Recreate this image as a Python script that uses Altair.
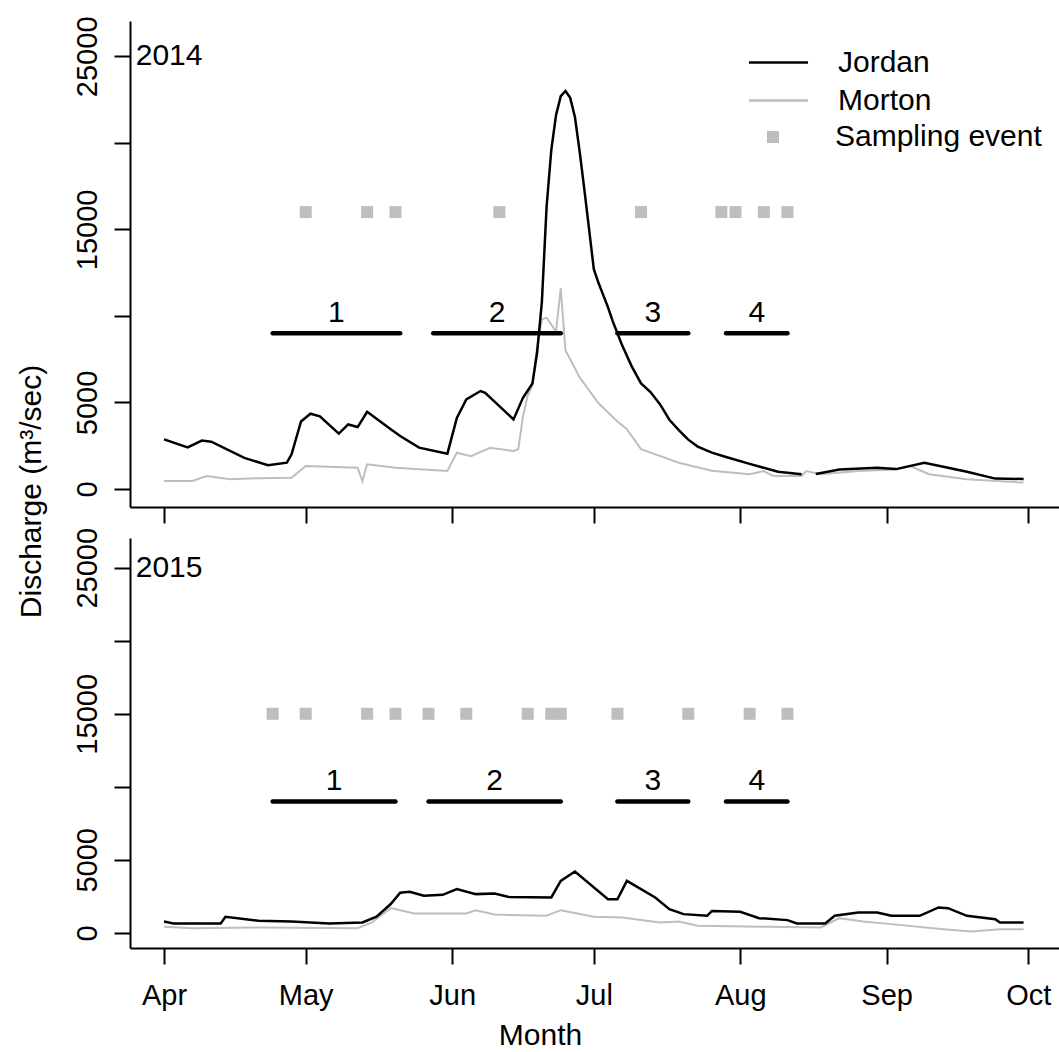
import altair as alt
import pandas as pd

FONT = "Liberation Sans"
GREY = "#bebebe"

# ---------------- discharge readings (m3/sec), dates as month-day ----------------
jordan_2014_dates = ["04-01", "04-06", "04-09", "04-11", "04-18", "04-23", "04-27", "04-28", "04-30",
                     "05-02", "05-04", "05-08", "05-10", "05-12", "05-14", "05-19", "05-21", "05-25",
                     "05-31", "06-02", "06-04", "06-07", "06-08", "06-14", "06-16", "06-18", "06-19",
                     "06-20", "06-21", "06-22", "06-23", "06-24", "06-25", "06-26", "06-27", "06-28",
                     "06-29", "06-30", "07-01", "07-02", "07-03", "07-04", "07-05", "07-06", "07-07",
                     "07-09", "07-11", "07-13", "07-15", "07-17", "07-19", "07-21", "07-23", "07-26",
                     "07-29", "08-03", "08-09", "08-14", "08-15", "08-17", "08-22", "08-30", "09-03",
                     "09-09", "09-14", "09-18", "09-24", "09-30"]
jordan_2014_q = [2870, 2400, 2800, 2730, 1800, 1380, 1520, 2000, 3900,
                 4350, 4200, 3200, 3730, 3580, 4460, 3450, 3060, 2390,
                 2040, 4100, 5180, 5660, 5560, 4020, 5270, 6100, 7900,
                 10800, 16300, 19600, 21600, 22700, 23000, 22600, 21500, 19500,
                 17300, 15000, 12700, 11900, 11200, 10500, 9700, 9000, 8300,
                 7100, 6100, 5600, 4900, 4000, 3400, 2850, 2450, 2100,
                 1850, 1450, 1000, 850, None, 870, 1130, 1230, 1150,
                 1520, 1230, 1000, 600, 580]

morton_2014_dates = ["04-01", "04-07", "04-10", "04-15", "04-21", "04-28", "05-01", "05-12", "05-13",
                     "05-14", "05-20", "05-31", "06-02", "06-05", "06-09", "06-14", "06-15", "06-16",
                     "06-17", "06-18", "06-19", "06-20", "06-21", "06-22", "06-23", "06-24", "06-25",
                     "06-26", "06-28", "07-02", "07-06", "07-08", "07-11", "07-19", "07-26", "08-03",
                     "08-06", "08-08", "08-14", "08-15", "08-18", "08-26", "09-03", "09-06", "09-10",
                     "09-18", "09-30"]
morton_2014_q = [460, 460, 750, 560, 620, 650, 1330, 1230, 450,
                 1430, 1230, 1040, 2100, 1900, 2380, 2200, 2300, 4200,
                 5400, 6000, 8200, 9800, 9900, 9500, 9100, 11600, 8000,
                 7500, 6450, 4950, 3900, 3450, 2300, 1520, 1060, 850,
                 1040, 750, 750, 1040, 850, 1040, 1130, 1330, 850,
                 560, 370]

jordan_2015_dates = ["04-01", "04-03", "04-13", "04-14", "04-21", "04-28", "05-06", "05-13", "05-16",
                     "05-19", "05-21", "05-23", "05-26", "05-30", "06-02", "06-06", "06-10", "06-13",
                     "06-22", "06-24", "06-27", "07-04", "07-06", "07-08", "07-14", "07-17", "07-20",
                     "07-25", "07-26", "08-01", "08-05", "08-11", "08-13", "08-19", "08-21", "08-26",
                     "08-30", "09-02", "09-08", "09-12", "09-14", "09-18", "09-24", "09-25", "09-30"]
jordan_2015_q = [780, 640, 640, 1100, 820, 780, 640, 710, 1100,
                 1970, 2750, 2810, 2540, 2600, 2990, 2650, 2690, 2460,
                 2420, 3560, 4200, 2300, 2300, 3560, 2420, 1620, 1280,
                 1165, 1500, 1440, 1005, 870, 640, 640, 1165, 1395,
                 1395, 1165, 1165, 1740, 1690, 1165, 935, 705, 705]

morton_2015_dates = ["04-01", "04-07", "04-22", "05-12", "05-15", "05-19", "05-24", "06-04", "06-06",
                     "06-10", "06-21", "06-24", "07-01", "07-07", "07-15", "07-19", "07-23", "08-07",
                     "08-18", "08-22", "08-27", "09-02", "09-13", "09-19", "09-25", "09-30"]
morton_2015_q = [410, 320, 365, 320, 710, 1690, 1320, 1320, 1550,
                 1250, 1165, 1550, 1095, 1050, 710, 775, 480, 410,
                 365, 1005, 775, 595, 250, 90, 250, 250]

# ---------------- sampling events ----------------
samples_2014 = ["05-01", "05-14", "05-20", "06-11", "07-11", "07-28", "07-31", "08-06", "08-11"]
samples_2014_level = 16000
samples_2015 = ["04-24", "05-01", "05-14", "05-20", "05-27", "06-04", "06-17", "06-22", "06-24",
                "07-06", "07-21", "08-03", "08-11"]
samples_2015_level = 15000

# ---------------- sampling periods ----------------
period_labels = ["1", "2", "3", "4"]
periods_2014_start = ["04-24", "05-28", "07-06", "07-29"]
periods_2014_end = ["05-21", "06-24", "07-21", "08-11"]
periods_2015_start = ["04-24", "05-27", "07-06", "07-29"]
periods_2015_end = ["05-20", "06-24", "07-21", "08-11"]
period_level = 9000

# y axis ticks and the labelled subset
y_ticks = [0, 5000, 10000, 15000, 20000, 25000]
y_labelled = [0, 5000, 15000, 25000]
month_ticks = [4, 5, 6, 7, 8, 9, 10]
panel_label_date = "03-26"
panel_label_level = 25000


def dates(year, mmdd):
    return pd.to_datetime([f"{year}-{d}" for d in mmdd])


def flow_frame(year, river, mmdd, q):
    return pd.DataFrame({"date": dates(year, mmdd), "q": q, "river": river})


seasons = {
    2014: dict(jordan=flow_frame(2014, "Jordan", jordan_2014_dates, jordan_2014_q),
               morton=flow_frame(2014, "Morton", morton_2014_dates, morton_2014_q),
               samples=pd.DataFrame({"date": dates(2014, samples_2014),
                                     "level": samples_2014_level, "kind": "Sampling event"}),
               periods=pd.DataFrame({"start": dates(2014, periods_2014_start),
                                     "end": dates(2014, periods_2014_end),
                                     "level": period_level, "label": period_labels})),
    2015: dict(jordan=flow_frame(2015, "Jordan", jordan_2015_dates, jordan_2015_q),
               morton=flow_frame(2015, "Morton", morton_2015_dates, morton_2015_q),
               samples=pd.DataFrame({"date": dates(2015, samples_2015),
                                     "level": samples_2015_level, "kind": "Sampling event"}),
               periods=pd.DataFrame({"start": dates(2015, periods_2015_start),
                                     "end": dates(2015, periods_2015_end),
                                     "level": period_level, "label": period_labels})),
}
for s in seasons.values():
    p = s["periods"]
    p["mid"] = p["start"] + (p["end"] - p["start"]) / 2

label_expr = " || ".join(f"datum.value == {v}" for v in y_labelled)
label_expr = f"({label_expr}) ? format(datum.value, 'd') : ''"

y_scale = alt.Scale(domain=[-1040, 27040], nice=False, zero=False)


def panel(year, height, top):
    s = seasons[year]
    x_scale = alt.Scale(domain=[alt.DateTime(year=year, month=3, date=24, hours=19),
                                alt.DateTime(year=year, month=10, date=7, hours=12)])
    months = [alt.DateTime(year=year, month=m, date=1) for m in month_ticks]
    if top:
        x_axis = alt.Axis(values=months, labels=False, title=None)
        y_axis = alt.Axis(values=y_ticks, labelExpr=label_expr, title="Discharge (m³/sec)",
                          titleX=-90, titleY=470, titleAngle=270, titleAlign="center",
                          titleBaseline="alphabetic")
    else:
        x_axis = alt.Axis(values=months, format="%b", title="Month",
                          titleX=410, titleY=96, titleAlign="center", titleBaseline="alphabetic")
        y_axis = alt.Axis(values=y_ticks, labelExpr=label_expr, title=None)

    def X(field):
        return alt.X(field, type="temporal", scale=x_scale, axis=x_axis)

    def Y(field):
        return alt.Y(field, type="quantitative", scale=y_scale, axis=y_axis)

    if top:
        river_color = alt.Color(
            "river:N",
            scale=alt.Scale(domain=["Jordan", "Morton"], range=["black", GREY]),
            legend=alt.Legend(title=None, orient="none", legendX=632, legendY=25,
                              symbolType="M-1.97,0H1.97", symbolSize=900, symbolStrokeWidth=2.5,
                              labelOffset=43, labelFontSize=30, labelFont=FONT, labelColor="black",
                              labelLimit=300, rowPadding=6, padding=0),
        )
        morton = alt.Chart(s["morton"]).mark_line(strokeWidth=2).encode(
            x=X("date"), y=Y("q"), color=river_color)
        jordan = alt.Chart(s["jordan"]).mark_line(strokeWidth=2.5).encode(
            x=X("date"), y=Y("q"), color=river_color)
        samples = alt.Chart(s["samples"]).mark_point(
            filled=True, size=144, color=GREY, opacity=1).encode(
            x=X("date"), y=Y("level"),
            shape=alt.Shape("kind:N",
                            scale=alt.Scale(domain=["Sampling event"], range=["square"]),
                            legend=alt.Legend(title=None, orient="none", legendX=628, legendY=101,
                                              symbolSize=144, symbolFillColor=GREY,
                                              symbolStrokeColor=GREY, symbolStrokeWidth=0,
                                              labelOffset=47, labelFontSize=30, labelFont=FONT,
                                              labelColor="black", labelLimit=300, padding=0)))
    else:
        morton = alt.Chart(s["morton"]).mark_line(strokeWidth=2, color=GREY).encode(
            x=X("date"), y=Y("q"))
        jordan = alt.Chart(s["jordan"]).mark_line(strokeWidth=2.5, color="black").encode(
            x=X("date"), y=Y("q"))
        samples = alt.Chart(s["samples"]).mark_point(
            filled=True, size=144, color=GREY, opacity=1, shape="square").encode(
            x=X("date"), y=Y("level"))

    bars = alt.Chart(s["periods"]).mark_rule(strokeWidth=4.5, strokeCap="round", color="black").encode(
        x=X("start"), x2="end", y=Y("level"))
    bar_labels = alt.Chart(s["periods"]).mark_text(
        fontSize=30, font=FONT, color="black", baseline="alphabetic", dy=-11).encode(
        x=X("mid"), y=Y("level"), text="label:N")
    year_label = alt.Chart(pd.DataFrame({"date": dates(year, [panel_label_date]),
                                         "level": [panel_label_level], "label": [str(year)]})
                           ).mark_text(fontSize=30, font=FONT, color="black", align="left",
                                       baseline="middle").encode(
        x=X("date"), y=Y("level"), text="label:N")

    return alt.layer(morton, jordan, bars, bar_labels, samples, year_label).properties(
        width=929, height=height)


chart = alt.vconcat(panel(2014, 486, True), panel(2015, 410, False), spacing=31, bounds="flush")
chart = chart.properties(
    padding={"left": 16, "top": 15, "right": 0, "bottom": 0},
    background="white",
).configure_view(strokeWidth=0).configure_axis(
    domainColor="black", domainWidth=2, tickColor="black", tickWidth=2, tickSize=16,
    labelFont=FONT, labelFontSize=29, labelColor="black", titleFont=FONT, titleFontSize=30,
    titleFontWeight="normal", titleColor="black", grid=False, labelOverlap=False, labelFlush=False,
).configure_axisX(labelPadding=17).configure_axisY(
    labelAngle=270, labelAlign="center", labelBaseline="alphabetic", labelPadding=18)

chart.save("out.html", embed_options={"renderer": "svg", "actions": False})
